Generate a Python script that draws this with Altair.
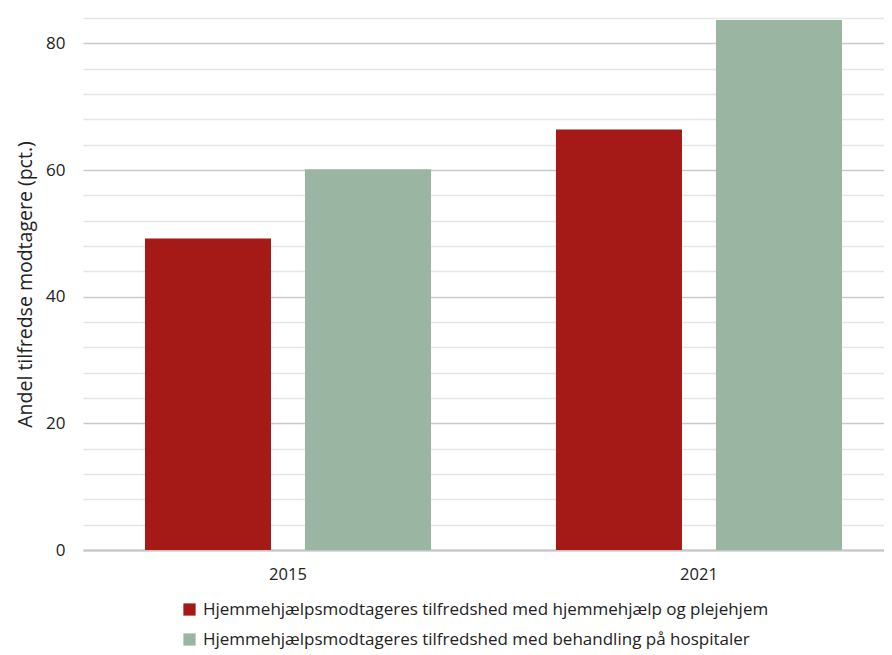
import altair as alt
import pandas as pd

years = ["2015", "2021"]
series = [
    "Hjemmehjælpsmodtageres tilfredshed med hjemmehjælp og plejehjem",
    "Hjemmehjælpsmodtageres tilfredshed med behandling på hospitaler",
]
values_home = [49.2, 66.4]
values_hosp = [60.1, 83.7]
colors = ["#A51916", "#9BB5A3"]
y_ticks = list(range(0, 85, 4))

rows = []
for i, y in enumerate(years):
    rows.append({"year": y, "serie": series[0], "value": values_home[i]})
    rows.append({"year": y, "serie": series[1], "value": values_hosp[i]})
df = pd.DataFrame(rows)

font = "Open Sans"

chart = alt.Chart(df).mark_bar().encode(
    x=alt.X("year:N", title=None,
            scale=alt.Scale(paddingInner=0.304, paddingOuter=0.1265, align=0.596),
            axis=alt.Axis(labelAngle=0, ticks=False, domain=True, domainColor="#c4c4c4",
                          domainWidth=2, labelFontSize=16.5, labelColor="#222",
                          labelFont=font, labelPadding=16)),
    xOffset=alt.XOffset("serie:N", sort=series,
                        scale=alt.Scale(paddingInner=0.2125, paddingOuter=0)),
    y=alt.Y("value:Q", title="Andel tilfredse modtagere (pct.)",
            scale=alt.Scale(domain=[0, 84], nice=False),
            axis=alt.Axis(values=y_ticks,
                          labelExpr="datum.value % 20 === 0 ? datum.label : ''",
                          ticks=False, domain=False, grid=True,
                          gridColor=alt.condition("datum.value % 20 === 0",
                                                  alt.value("#cacaca"), alt.value("#e6e6e6")),
                          gridWidth=1.6, labelFontSize=17, labelColor="#222",
                          labelFont=font, labelPadding=18,
                          titleFont=font, titleFontSize=19.5, titleFontWeight="normal",
                          titleColor="#222", titlePadding=10)),
    color=alt.Color("serie:N", sort=series,
                    scale=alt.Scale(domain=series, range=colors),
                    legend=alt.Legend(title=None, orient="none", legendX=98, legendY=583,
                                      direction="vertical", symbolType="square",
                                      symbolSize=150, symbolStrokeWidth=0,
                                      labelFontSize=17, labelFont=font, labelColor="#222",
                                      labelLimit=900, rowPadding=12, labelOffset=5)),
).properties(
    width=801, height=532,
    autosize=alt.AutoSizeParams(type="none"),
    padding={"left": 75, "top": 10, "right": 0, "bottom": 103},
).configure_view(stroke=None)

chart.save("out.html", embed_options={"renderer": "svg", "actions": False})
